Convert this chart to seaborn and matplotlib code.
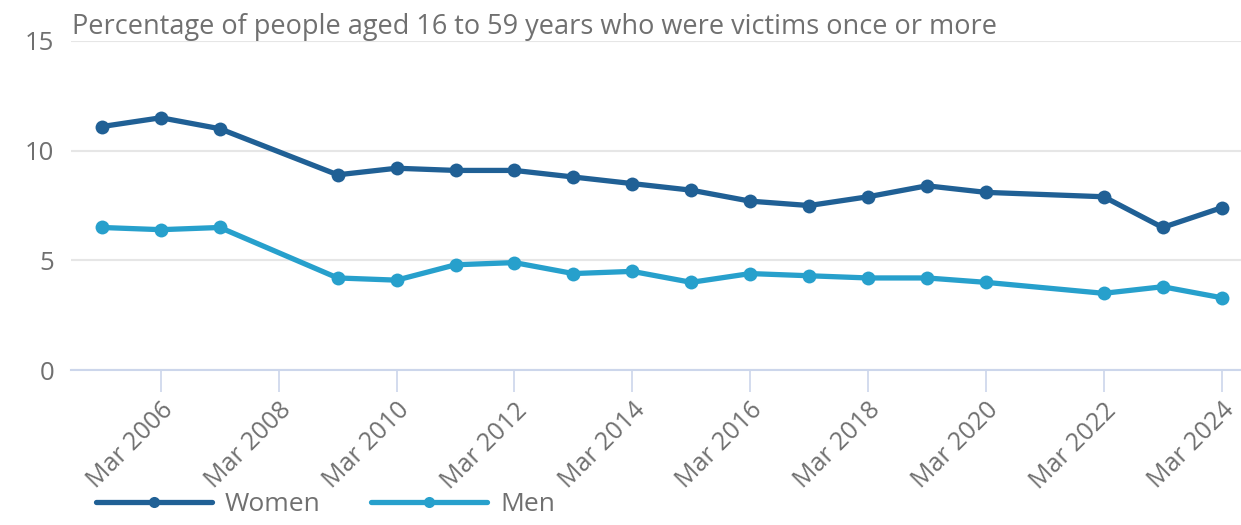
import pandas as pd
import seaborn as sns
import matplotlib.pyplot as plt
from matplotlib.lines import Line2D

# Values (year ending March)
years = [2005, 2006, 2007, 2009, 2010, 2011, 2012, 2013, 2014, 2015,
         2016, 2017, 2018, 2019, 2020, 2022, 2023, 2024]
women = [11.1, 11.5, 11.0, 8.9, 9.2, 9.1, 9.1, 8.8, 8.5, 8.2,
         7.7, 7.5, 7.9, 8.4, 8.1, 7.9, 6.5, 7.4]
men = [6.5, 6.4, 6.5, 4.2, 4.1, 4.8, 4.9, 4.4, 4.5, 4.0,
       4.4, 4.3, 4.2, 4.2, 4.0, 3.5, 3.8, 3.3]
tick_years = [2006, 2008, 2010, 2012, 2014, 2016, 2018, 2020, 2022, 2024]
tick_labels = [f"Mar {y}" for y in tick_years]
y_ticks = [0, 5, 10, 15]
title = "Percentage of people aged 16 to 59 years who were victims once or more"

df = pd.DataFrame({
    "year": years * 2,
    "value": women + men,
    "group": ["Women"] * len(years) + ["Men"] * len(years),
})
palette = {"Women": "#206095", "Men": "#27a0cc"}

sns.set_style("white")
plt.rcParams["font.family"] = ["Open Sans", "DejaVu Sans"]
text_col = "#707070"

fig = plt.figure(figsize=(12.41, 5.25), dpi=100)
ax = fig.add_axes([0.057, 0.295, 0.943, 0.627])

sns.lineplot(data=df, x="year", y="value", hue="group", palette=palette,
             marker="o", markersize=10, markeredgewidth=0, linewidth=3.8,
             legend=False, ax=ax)

ax.set_xlim(2004.47, 2024.33)
ax.set_ylim(0, 15)
ax.set_yticks(y_ticks)
ax.set_yticklabels([str(v) for v in y_ticks], fontsize=18.5, color=text_col)
ax.set_xticks(tick_years)
ax.set_xticklabels(tick_labels, rotation=45, ha="right", rotation_mode="anchor",
                   fontsize=18, color=text_col)
ax.tick_params(axis="x", bottom=True, length=16, width=1.2, color="#ccd6eb", pad=4)
ax.tick_params(axis="y", length=0, pad=12)
ax.grid(axis="y", color="#e6e6e6", linewidth=1.5)
ax.set_axisbelow(True)
for s in ["left", "right", "top"]:
    ax.spines[s].set_visible(False)
ax.spines["bottom"].set_color("#ccd6eb")
ax.spines["bottom"].set_linewidth(1.5)
ax.set_xlabel("")
ax.set_ylabel("")

fig.text(0.058, 0.948, title, fontsize=19.5, color=text_col, va="center", ha="left")

handles = [Line2D([], [], color=palette[g], linewidth=3.8, marker="o",
                  markersize=8, markeredgewidth=0) for g in ["Women", "Men"]]
fig.legend(handles, ["Women", "Men"], loc="lower left", bbox_to_anchor=(0.058, -0.03),
           ncol=2, frameon=False, fontsize=19, handlelength=4.4, columnspacing=1.9,
           handletextpad=0.5, labelcolor=text_col)

fig.savefig("out.png", dpi=100)
